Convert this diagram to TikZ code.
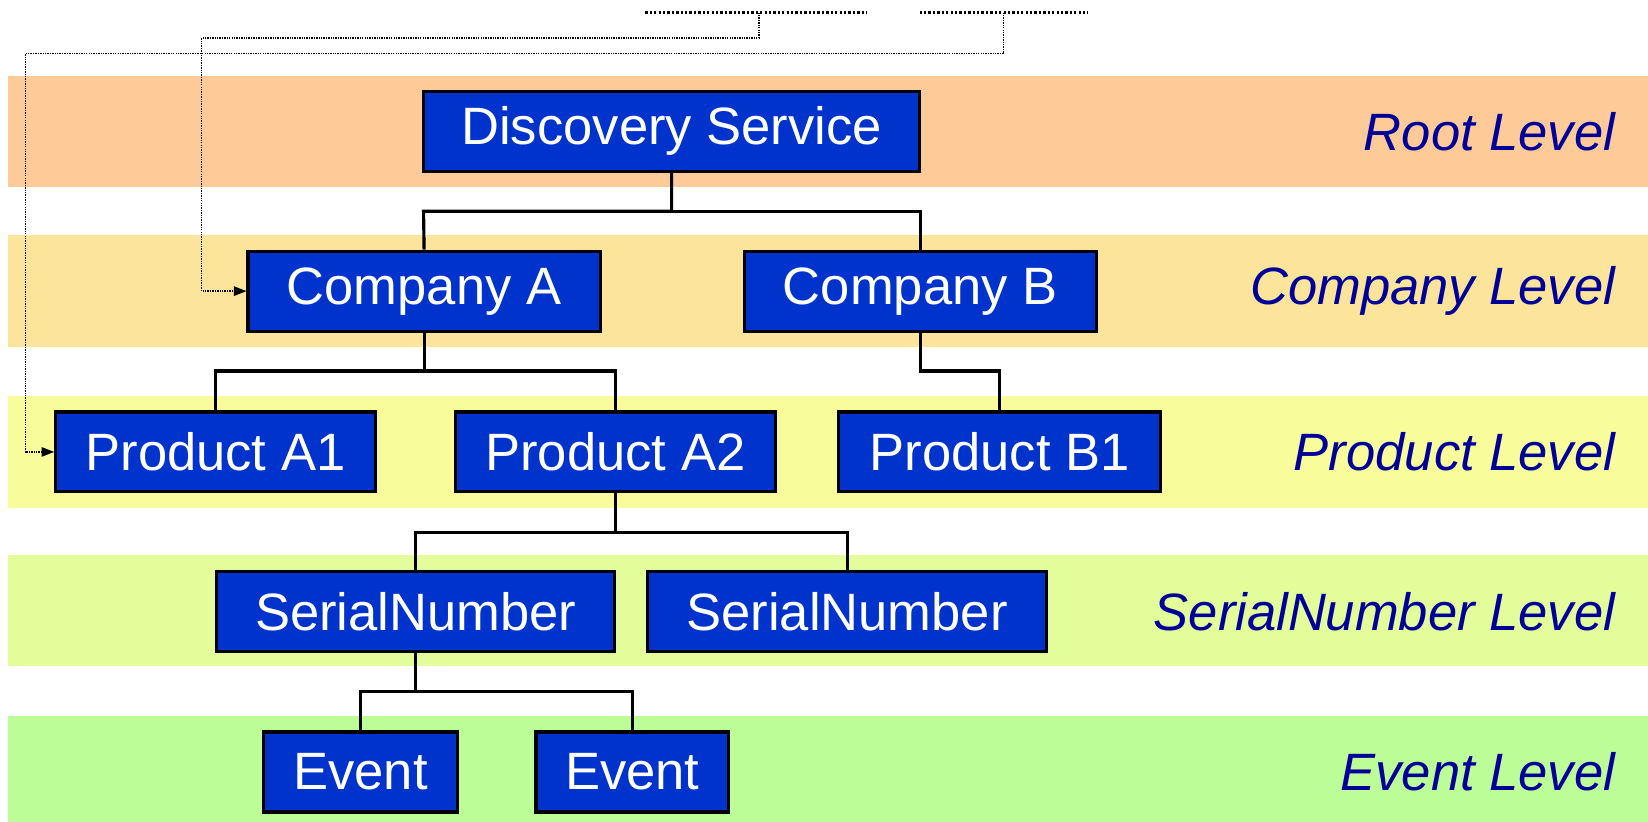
\documentclass[tikz,border=0pt]{standalone}
\usepackage{fontspec}
\setmainfont{Liberation Sans}
\usetikzlibrary{arrows.meta}
\definecolor{bandroot}{HTML}{FDCA98}
\definecolor{bandcomp}{HTML}{FCE59A}
\definecolor{bandprod}{HTML}{F8FC9A}
\definecolor{bandser}{HTML}{E2FD9A}
\definecolor{bandevt}{HTML}{BCFD98}
\definecolor{boxblue}{HTML}{0033CC}
\definecolor{lvlblue}{HTML}{000099}
\tikzset{
  x=1pt, y=-1pt,
  band/.style={fill=#1, draw=none},
  nodebox/.style={draw=black, line width=3pt, fill=boxblue, text=white,
    font=\fontsize{50}{56}\selectfont, minimum height=76pt, inner sep=0pt},
  lvl/.style={anchor=east, text=lvlblue, font=\fontsize{50}{56}\selectfont\itshape, inner sep=0pt},
  tree/.style={draw=black, line width=3pt},
  link/.style={draw=black, line width=1.3pt, densely dotted, -{Triangle[length=12pt,width=9pt]}},
  uline/.style={draw=black, line width=2.2pt, dotted},
}
\begin{document}
\begin{tikzpicture}
\useasboundingbox (0,0) rectangle (1568,782);
% bands
\path[band=bandroot] (8,72) rectangle (1568,178);
\path[band=bandcomp] (8,224) rectangle (1568,330);
\path[band=bandprod] (8,377) rectangle (1568,483);
\path[band=bandser] (8,528) rectangle (1568,634);
\path[band=bandevt] (8,681) rectangle (1568,782);
% nodes
\node[nodebox, minimum width=472pt] (ds) at (639,125) {Discovery Service};
\node[nodebox, minimum width=335pt] (ca) at (403.5,277) {Company A};
\node[nodebox, minimum width=335pt] (cb) at (875.5,277) {Company B};
\node[nodebox, minimum width=304pt] (pa1) at (205,430) {Product A1};
\node[nodebox, minimum width=305pt] (pa2) at (585.5,430) {Product A2};
\node[nodebox, minimum width=306pt] (pb1) at (951,430) {Product B1};
\node[nodebox, minimum width=379pt] (sn1) at (395.5,582) {SerialNumber};
\node[nodebox, minimum width=380pt] (sn2) at (806,582) {SerialNumber};
\node[nodebox, minimum width=184pt] (ev1) at (343,734.5) {Event};
\node[nodebox, minimum width=183pt] (ev2) at (601.5,734.5) {Event};
% level labels
\node[lvl] (l1) at (1537,125) {Root Level};
\node[lvl] (l2) at (1537,277) {Company Level};
\node[lvl] (l3) at (1537,430) {Product Level};
\node[lvl] (l4) at (1537,582) {SerialNumber Level};
\node[lvl] (l5) at (1537,734.5) {Event Level};
% tree connectors
\draw[tree] (ds.south) |- (403,201) -- (ca.north);
\draw[tree] (ds.south) |- (875.5,201) -- (cb.north);
\draw[tree] (ca.south) |- (205,353) -- (pa1.north);
\draw[tree] (ca.south) |- (585.5,353) -- (pa2.north);
\draw[tree] (cb.south) |- (951,353) -- (pb1.north);
\draw[tree] (pa2.south) |- (395.5,507) -- (sn1.north);
\draw[tree] (pa2.south) |- (806,507) -- (sn2.north);
\draw[tree] (sn1.south) |- (343,658) -- (ev1.north);
\draw[tree] (sn1.south) |- (601.5,658) -- (ev2.north);
% dotted underlines at top
\coordinate (u1a) at (614,12);
\coordinate (u1b) at (825,12);
\coordinate (u2a) at (875,12);
\coordinate (u2b) at (1035,12);
\draw[uline] (u1a) -- (u1b);
\draw[uline] (u2a) -- (u2b);
\coordinate (s1) at (722,12);
\coordinate (s2) at (955,12);
% dotted links
\draw[link] (s1) -- (722,36) -| (192,277) -- (ca.west);
\draw[link] (s2) -- (955,51) -| (24,430) -- (pa1.west);
\end{tikzpicture}
\end{document}
